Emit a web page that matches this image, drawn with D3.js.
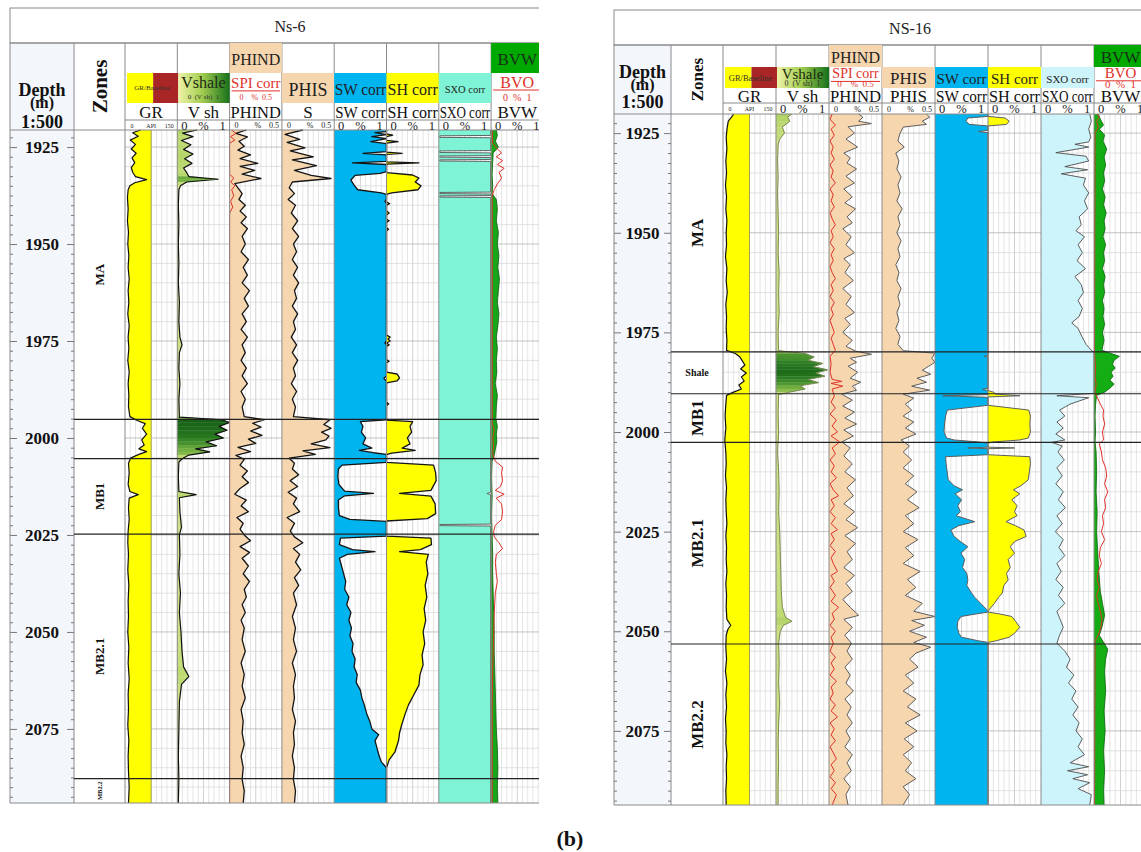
<!doctype html>
<html lang="en">
<head>
<meta charset="utf-8"/>
<title>Well log panels Ns-6 / NS-16</title>
<style>
  body { margin: 0; background: #fff; }
  svg { display: block; font-family: "Liberation Serif", "Times New Roman", serif; }
</style>
<script src="https://d3js.org/d3.v7.min.js"></script>
</head>
<body>
<svg width="1141" height="852" font-family="Liberation Serif, serif"></svg>
<script>
// ---------- data ----------
const depthLabels = [1925, 1950, 1975, 2000, 2025, 2050, 2075];
const trackDomains = [[0, 150], [0, 1], [0, 0.5], [0, 0.5], [0, 1], [0, 1], [0, 1], [0, 1]];
const scaleLabels = [["0", "API", "150"], ["0", "%", "1"], ["0", "%", "0.5"], ["0", "%", "0.5"], ["0", "%", "1"], ["0", "%", "1"], ["0", "%", "1"], ["0", "%", "1"]];
const ns6Names = ["GR", "V sh", "PHIND", "S", "SW corr", "SH corr", "SXO corr", "BVW"];
const ns16Names = ["GR", "V sh", "PHIND", "PHIS", "SW corr", "SH corr", "SXO corr", "BVW"];
const grBaseline = 75;

const ns6Zones = [
  {name: "MA", top: 1920.6, base: 1995.2},
  {name: "", top: 1995.2, base: 2005.3},
  {name: "MB1", top: 2005.3, base: 2024.8},
  {name: "MB2.1", top: 2024.8, base: 2087.8},
  {name: "MB2.2", top: 2087.8, base: 2094.1}
];
const ns16Zones = [
  {name: "MA", top: 1920.2, base: 1979.9},
  {name: "Shale", top: 1979.9, base: 1990.4},
  {name: "MB1", top: 1990.4, base: 2002.6},
  {name: "MB2.1", top: 2002.6, base: 2053.2},
  {name: "MB2.2", top: 2053.2, base: 2093.6}
];

// Ns-6 curves: [depth m, value]
const ns6GR = [[1920.6,45],[1921.3,22],[1922.2,38],[1923.2,15],[1924.3,30],[1925.5,18],[1926.6,32],[1927.8,20],[1929,28],[1930.3,18],[1931.5,22],[1932.6,30],[1933.4,62],[1934.2,28],[1935,14],[1936,9],[1938,7],[1941,9],[1944,7],[1947,10],[1950,8],[1953,11],[1956,9],[1959,12],[1962,9],[1965,11],[1968,8],[1971,12],[1974,9],[1977,11],[1980,8],[1983,12],[1986,9],[1989,11],[1992,10],[1994.5,14],[1995.5,35],[1996.3,58],[1997.5,50],[1999,62],[2000.5,48],[2001.8,55],[2002.8,40],[2003.5,62],[2004.3,38],[2005.2,16],[2006.5,10],[2009,12],[2012,9],[2013.8,14],[2014.6,38],[2015.5,12],[2018,10],[2021,12],[2024,9],[2027,8],[2030,10],[2034,8],[2038,11],[2042,9],[2046,10],[2050,8],[2054,11],[2058,9],[2062,12],[2066,9],[2070,10],[2074,8],[2078,11],[2082,9],[2086,10],[2090,12],[2094.1,10]];
const ns6Vsh = [[1920.6,0.38],[1921.4,0.1],[1922.3,0.3],[1923.3,0.08],[1924.4,0.26],[1925.6,0.12],[1926.8,0.3],[1928,0.14],[1929.2,0.28],[1930.4,0.12],[1931.6,0.18],[1932.6,0.22],[1933.3,0.78],[1934,0.18],[1935,0.06],[1936,0.03],[1940,0.02],[1945,0.03],[1950,0.02],[1955,0.03],[1960,0.02],[1965,0.04],[1970,0.03],[1974,0.05],[1976,0.09],[1978,0.04],[1982,0.03],[1986,0.05],[1990,0.03],[1994.6,0.04],[1995.3,0.85],[1996,1.0],[1997,0.8],[1998,0.95],[1999,0.72],[2000,0.88],[2001,0.55],[2002,0.75],[2002.8,0.35],[2003.6,0.62],[2004.4,0.22],[2005.3,0.1],[2006.2,0.03],[2010,0.02],[2013.8,0.03],[2014.6,0.36],[2015.4,0.04],[2019,0.05],[2023,0.08],[2025,0.04],[2030,0.05],[2035,0.03],[2040,0.06],[2045,0.04],[2050,0.07],[2055,0.09],[2059,0.12],[2061.5,0.22],[2063.5,0.08],[2068,0.04],[2075,0.03],[2082,0.02],[2088,0.03],[2094.1,0.02]];
const ns6PHIND = [[1920.6,0.16],[1921.5,0.06],[1922.4,0.17],[1923.5,0.09],[1924.8,0.14],[1925.8,0.08],[1927,0.2],[1928,0.1],[1929.2,0.27],[1930,0.1],[1931,0.24],[1932,0.12],[1933.1,0.3],[1934.4,0.05],[1935.5,0.08],[1937,0.12],[1938.5,0.09],[1940,0.15],[1941.5,0.1],[1943,0.16],[1944.5,0.11],[1946,0.17],[1948,0.12],[1950,0.15],[1952,0.11],[1954,0.18],[1956,0.13],[1958,0.17],[1960,0.12],[1962,0.19],[1964,0.14],[1966,0.18],[1968,0.12],[1970,0.16],[1972,0.11],[1974,0.17],[1976,0.12],[1978,0.15],[1980,0.11],[1982,0.16],[1984,0.12],[1986,0.17],[1988,0.11],[1990,0.15],[1992,0.12],[1994.5,0.14],[1995.3,0.33],[1996.2,0.22],[1997.2,0.3],[1998.2,0.2],[1999.3,0.31],[2000.3,0.18],[2001.4,0.25],[2002.4,0.08],[2003.5,0.2],[2004.5,0.06],[2005.5,0.14],[2007,0.1],[2008.5,0.17],[2010,0.12],[2011.5,0.18],[2013,0.1],[2014.5,0.05],[2016,0.16],[2017.5,0.11],[2019,0.18],[2020.5,0.07],[2022,0.13],[2023.5,0.1],[2025,0.14],[2026.5,0.2],[2028,0.1],[2029.5,0.19],[2031,0.12],[2033,0.18],[2035,0.13],[2037,0.19],[2039,0.14],[2041,0.16],[2043,0.12],[2045,0.15],[2047,0.11],[2049,0.14],[2052,0.12],[2055,0.15],[2058,0.11],[2061,0.14],[2064,0.12],[2067,0.15],[2070,0.11],[2073,0.13],[2076,0.12],[2079,0.14],[2082,0.11],[2085,0.13],[2088,0.12],[2091,0.14],[2094.1,0.13]];
const ns6SPI = [[1920.6,0.02],[1921.5,0.06],[1922.3,0.01],[1923.2,0.05],[1924,0.0],[1932,0.0],[1933,0.04],[1934,0.01],[1935,0.05],[1936,0.02],[1937.5,0.04],[1939,0.01],[1940.5,0.03],[1942,0.0],[2094.1,0.0]];
const ns6PHIS = [[1920.6,0.2],[1921.7,0.03],[1923,0.17],[1923.8,0.05],[1925.2,0.22],[1926,0.08],[1927.5,0.3],[1928.3,0.1],[1929.8,0.33],[1931,0.12],[1932.3,0.28],[1933.1,0.47],[1934,0.1],[1935.5,0.07],[1937,0.12],[1938.5,0.06],[1940,0.13],[1942,0.09],[1944,0.15],[1946,0.1],[1948,0.16],[1950,0.11],[1952,0.14],[1954,0.1],[1956,0.15],[1958,0.11],[1960,0.16],[1962,0.12],[1964,0.14],[1966,0.1],[1968,0.15],[1970,0.11],[1972,0.13],[1974,0.09],[1976,0.14],[1978,0.1],[1980,0.15],[1982,0.11],[1984,0.13],[1986,0.09],[1988,0.14],[1990,0.1],[1992,0.13],[1994.5,0.11],[1995.3,0.46],[1996.5,0.4],[1997.5,0.47],[1998.5,0.38],[1999.5,0.45],[2000.5,0.42],[2001.5,0.28],[2002.5,0.46],[2003.3,0.2],[2004.2,0.32],[2005.2,0.07],[2006.5,0.12],[2008,0.1],[2009.5,0.16],[2011,0.08],[2012.5,0.15],[2014,0.06],[2015.5,0.14],[2017,0.11],[2019,0.17],[2020.5,0.05],[2022,0.12],[2024,0.08],[2025.5,0.12],[2027,0.2],[2028.5,0.11],[2030,0.17],[2032,0.13],[2034,0.18],[2036,0.12],[2038,0.16],[2040,0.11],[2043,0.14],[2046,0.1],[2049,0.13],[2052,0.11],[2055,0.14],[2058,0.1],[2061,0.13],[2064,0.11],[2067,0.12],[2070,0.1],[2073,0.13],[2076,0.11],[2079,0.12],[2082,0.1],[2085,0.12],[2088,0.11],[2091,0.13],[2094.1,0.12]];
const ns6SW = [[1920.6,1],[1921,1],[1921.3,0.78],[1921.8,1],[1922.3,0.72],[1922.8,1],[1923.6,0.7],[1924.1,1],[1926.2,1],[1926.6,0.55],[1927,1],[1928.7,1],[1929.1,0.35],[1929.5,1],[1931.3,1],[1931.8,0.88],[1932.3,0.4],[1933.5,0.32],[1934.8,0.38],[1936,0.45],[1936.8,0.9],[1937.2,1],[1938.5,1],[1939,0.97],[1939.5,1],[1975,1],[1975.5,0.97],[1976,1],[1984,1],[1984.6,0.95],[1985.4,1],[1995.3,1],[1995.8,0.5],[1997,0.55],[1998.5,0.52],[2000,0.6],[2001.5,0.55],[2002.6,0.72],[2003.2,0.48],[2003.8,0.75],[2004.2,1],[2006.3,1],[2007,0.15],[2008,0.08],[2010,0.07],[2012,0.09],[2013.7,0.2],[2014.3,0.75],[2014.9,0.2],[2016,0.08],[2018,0.08],[2020,0.1],[2021,0.3],[2021.5,1],[2025.3,1],[2025.8,0.12],[2027.5,0.1],[2028.8,0.35],[2029.3,0.78],[2030,0.25],[2031,0.1],[2033,0.14],[2035,0.18],[2037,0.22],[2039,0.2],[2041,0.28],[2043,0.24],[2045,0.32],[2047,0.28],[2049,0.33],[2051,0.3],[2053,0.36],[2055,0.34],[2057,0.4],[2059,0.38],[2061,0.44],[2063,0.42],[2065,0.5],[2067,0.53],[2069,0.58],[2071,0.62],[2073,0.68],[2075,0.72],[2076.5,0.85],[2078,0.78],[2080,0.82],[2082,0.86],[2083.5,0.9],[2085,1],[2094.1,1]];
const ns6SH = [[1920.6,0],[1921.6,0],[1921.9,0.12],[1922.3,0],[1923.3,0],[1923.6,0.22],[1924,0],[1926.3,0],[1926.6,0.3],[1926.9,0],[1928.8,0],[1929.1,0.62],[1929.4,0],[1931.6,0],[1932.2,0.5],[1933,0.62],[1934,0.55],[1935,0.66],[1936,0.6],[1936.8,0.1],[1937.2,0],[1939.2,0],[1939.6,0.06],[1940,0],[1941.5,0],[1942,0.05],[1942.5,0],[1943.6,0],[1944,0.05],[1944.4,0],[1945.8,0],[1946.2,0.04],[1946.6,0],[1973.5,0],[1974,0.07],[1974.5,0.03],[1975,0.07],[1975.5,0],[1976,0.05],[1976.4,0],[1979.8,0],[1980.2,0.05],[1980.6,0],[1983,0],[1983.5,0.2],[1984.5,0.25],[1985.3,0.2],[1985.8,0],[1990.8,0],[1991.2,0.04],[1991.6,0],[1995.4,0],[1995.8,0.5],[1997,0.45],[1998.5,0.48],[2000,0.4],[2001.5,0.45],[2002.6,0.3],[2003.2,0.55],[2003.9,0.1],[2004.3,0],[2006.3,0],[2007,0.9],[2009,0.94],[2011,0.95],[2013.5,0.85],[2014.3,0.25],[2015,0.85],[2017,0.93],[2019.5,0.94],[2020.8,0.78],[2021.4,0],[2025.3,0],[2025.8,0.85],[2027.5,0.86],[2028.8,0.65],[2029.3,0.25],[2030,0.8],[2032,0.76],[2035,0.79],[2038,0.74],[2041,0.77],[2044,0.72],[2047,0.75],[2050,0.7],[2053,0.73],[2056,0.68],[2058.5,0.7],[2061,0.64],[2063.7,0.62],[2066,0.53],[2068.8,0.42],[2071,0.36],[2074,0.29],[2076,0.25],[2078,0.23],[2081,0.16],[2083,0.05],[2085,0],[2094.1,0]];
const ns6SXO = [[1920.6,0.99],[1922,0.99],[1922.1,0.02],[1922.5,0.02],[1922.6,0.99],[1925.9,0.99],[1926,0.02],[1926.4,0.02],[1926.5,0.99],[1927.2,0.99],[1927.3,0.02],[1927.6,0.02],[1927.7,0.99],[1928.2,0.99],[1928.3,0.02],[1928.6,0.02],[1928.7,0.99],[1936.6,0.99],[1936.7,0.02],[1937,0.02],[1937.1,0.99],[1937.5,0.99],[1937.6,0.02],[1937.9,0.02],[1938,0.99],[2014,0.99],[2014.3,0.92],[2014.6,0.99],[2022.2,0.99],[2022.3,0.02],[2022.6,0.02],[2022.7,0.99],[2094.1,0.99]];
const ns6BVW = [[1920.6,0.1],[1922,0.12],[1923.5,0.08],[1925,0.14],[1926.5,0.04],[1929,0.03],[1932,0.02],[1935,0.03],[1937,0.02],[1938.5,0.1],[1941,0.12],[1944,0.1],[1947,0.14],[1950,0.12],[1953,0.15],[1956,0.13],[1959,0.16],[1962,0.14],[1965,0.12],[1968,0.15],[1971,0.13],[1974,0.1],[1977,0.12],[1980,0.1],[1983,0.11],[1986,0.08],[1989,0.12],[1992,0.1],[1995,0.09],[1997,0.12],[1999,0.1],[2001,0.11],[2003,0.08],[2004.5,0.06],[2006,0.02],[2010,0.01],[2015,0.02],[2020,0.01],[2025,0.02],[2030,0.03],[2035,0.03],[2040,0.04],[2045,0.05],[2050,0.06],[2055,0.06],[2060,0.07],[2065,0.08],[2070,0.09],[2075,0.1],[2080,0.12],[2085,0.13],[2090,0.12],[2094.1,0.13]];
const ns6BVO = [[1920.6,0.02],[1924,0.03],[1925.5,0.12],[1926.5,0.2],[1927.5,0.1],[1928.5,0.22],[1929.5,0.12],[1930.5,0.25],[1931.5,0.15],[1933,0.2],[1934.5,0.12],[1936,0.06],[1937.5,0.02],[1996,0.02],[1998,0.06],[2000,0.03],[2002,0.05],[2004,0.03],[2006,0.08],[2007.5,0.22],[2009,0.2],[2011,0.22],[2012.5,0.18],[2013.5,0.08],[2014.5,0.25],[2015.5,0.1],[2017,0.2],[2019,0.22],[2021,0.2],[2022.5,0.08],[2024,0.05],[2025.5,0.06],[2027,0.15],[2028.5,0.22],[2030,0.1],[2032,0.08],[2035,0.1],[2037,0.12],[2040,0.08],[2045,0.06],[2050,0.05],[2055,0.04],[2060,0.03],[2070,0.02],[2094.1,0.02]];

// NS-16 curves
const ns16GR = [[1920.2,30],[1921,24],[1922,15],[1923.5,12],[1926,9],[1929,11],[1932,8],[1935,10],[1938,7],[1941,10],[1944,8],[1947,11],[1950,9],[1953,10],[1956,7],[1959,11],[1962,9],[1965,12],[1968,8],[1971,10],[1974,9],[1977,11],[1979.5,10],[1980.3,35],[1981.2,48],[1982.2,55],[1983.2,62],[1984.2,50],[1985.2,66],[1986.2,52],[1987.2,60],[1988.2,45],[1989.2,52],[1990,30],[1990.8,10],[1993,8],[1996,6],[1999,8],[2002,5],[2005,8],[2008,9],[2011,7],[2014,10],[2017,8],[2020,9],[2023,11],[2026,8],[2029,10],[2032,9],[2035,11],[2038,8],[2041,10],[2044,9],[2047,11],[2048.5,22],[2049.5,14],[2051,9],[2054,8],[2057,10],[2060,7],[2063,11],[2066,8],[2069,10],[2072,7],[2075,9],[2078,8],[2081,11],[2084,9],[2087,10],[2090,8],[2093.6,9]];
const ns16Vsh = [[1920.2,0.3],[1921,0.22],[1922,0.26],[1923.5,0.12],[1925,0.16],[1926.5,0.07],[1928,0.04],[1932,0.03],[1936,0.04],[1940,0.03],[1945,0.04],[1950,0.05],[1955,0.04],[1960,0.06],[1965,0.05],[1970,0.06],[1975,0.04],[1979.6,0.05],[1980.3,0.55],[1981.2,0.72],[1982,0.6],[1982.8,0.88],[1983.6,0.7],[1984.4,0.97],[1985.2,0.75],[1986,0.92],[1986.8,0.6],[1987.6,0.8],[1988.4,0.45],[1989.2,0.55],[1990,0.25],[1990.6,0.05],[1995,0.04],[2000,0.05],[2005,0.03],[2010,0.05],[2015,0.06],[2020,0.05],[2025,0.07],[2030,0.08],[2035,0.09],[2040,0.1],[2044,0.12],[2046.5,0.18],[2047.5,0.3],[2048.5,0.14],[2050,0.08],[2053,0.05],[2058,0.06],[2063,0.05],[2068,0.07],[2073,0.05],[2078,0.04],[2083,0.05],[2088,0.04],[2093.6,0.04]];
const ns16PHIND = [[1920.2,0.28],[1921,0.32],[1922,0.28],[1922.6,0.4],[1923.4,0.18],[1925,0.24],[1926.5,0.16],[1928.5,0.27],[1930,0.14],[1931.2,0.2],[1932.5,0.17],[1934,0.26],[1935.8,0.16],[1937.5,0.24],[1939,0.14],[1941,0.22],[1942.5,0.15],[1944,0.25],[1946,0.17],[1947.5,0.22],[1949,0.13],[1951,0.21],[1953,0.16],[1955,0.24],[1956.5,0.14],[1958,0.2],[1960,0.15],[1962,0.23],[1964,0.13],[1966,0.21],[1968,0.16],[1970,0.24],[1971.5,0.15],[1973,0.2],[1975,0.13],[1977,0.22],[1978.5,0.16],[1979.7,0.25],[1980.5,0.4],[1981.5,0.2],[1982.5,0.26],[1983.5,0.18],[1985,0.27],[1986.5,0.2],[1987.5,0.3],[1988.5,0.22],[1989.5,0.26],[1990.5,0.12],[1992,0.22],[1993.5,0.13],[1995,0.24],[1996.5,0.15],[1998,0.26],[1999.5,0.14],[2001,0.23],[2002.5,0.12],[2004,0.2],[2006,0.14],[2008,0.22],[2010,0.15],[2012,0.25],[2014,0.17],[2016,0.23],[2018,0.14],[2020,0.24],[2022,0.16],[2024,0.27],[2026,0.15],[2028,0.25],[2030,0.17],[2032,0.22],[2034,0.14],[2036,0.24],[2038,0.16],[2040,0.22],[2042,0.13],[2044,0.2],[2046,0.28],[2047,0.14],[2049,0.22],[2051,0.15],[2053,0.21],[2055,0.17],[2057,0.22],[2059,0.15],[2061,0.2],[2063,0.16],[2065,0.23],[2067,0.15],[2069,0.21],[2071,0.17],[2073,0.22],[2075,0.16],[2077,0.2],[2079,0.15],[2081,0.22],[2083,0.17],[2085,0.21],[2087,0.14],[2089,0.2],[2091,0.16],[2093.6,0.18]];
const ns16SPI = [[1920.2,0.03],[1921.5,0.01],[1923,0.06],[1924,0.02],[1925.5,0.05],[1927,0.01],[1928.5,0.04],[1930,0.02],[1931.5,0.05],[1933,0.01],[1934.5,0.04],[1936,0.02],[1937.5,0.06],[1939,0.01],[1940.5,0.04],[1942,0.02],[1943.5,0.05],[1945,0.01],[1946.5,0.03],[1948,0.06],[1949.5,0.02],[1951,0.04],[1952.5,0.01],[1954,0.05],[1955.5,0.02],[1957,0.04],[1958.5,0.01],[1960,0.03],[1961.5,0.06],[1963,0.02],[1964.5,0.04],[1966,0.01],[1967.5,0.05],[1969,0.02],[1970.5,0.04],[1972,0.01],[1973.5,0.03],[1975,0.05],[1976.5,0.02],[1978,0.04],[1979.5,0.06],[1981,0.01],[1983,0.02],[1985,0.01],[1986.8,0.03],[1987.3,0.12],[1987.8,0.02],[1988.5,0.13],[1989.2,0.03],[1991,0.05],[1992.5,0.02],[1994,0.06],[1995.5,0.01],[1997,0.07],[1998.5,0.03],[2000,0.08],[2001,0.02],[2002.5,0.1],[2004,0.03],[2005.5,0.06],[2007,0.01],[2008.5,0.05],[2010,0.02],[2011.5,0.07],[2013,0.01],[2014.5,0.04],[2016,0.09],[2017,0.02],[2018.5,0.05],[2020,0.01],[2021.5,0.06],[2023,0.02],[2024.5,0.08],[2025.5,0.02],[2027,0.05],[2028.5,0.01],[2030,0.06],[2031.5,0.02],[2033,0.04],[2035,0.08],[2036,0.02],[2037.5,0.05],[2039,0.01],[2041,0.06],[2042.5,0.02],[2044,0.09],[2045.5,0.03],[2047,0.05],[2048.5,0.01],[2050,0.06],[2051.5,0.02],[2053,0.04],[2055,0.01],[2056.5,0.06],[2058,0.02],[2059.5,0.05],[2061,0.01],[2062.5,0.07],[2064,0.02],[2065.5,0.04],[2067,0.01],[2068.5,0.06],[2070,0.02],[2071.5,0.08],[2073,0.01],[2074.5,0.05],[2076,0.02],[2077.5,0.06],[2079,0.01],[2080.5,0.04],[2082,0.07],[2083.5,0.02],[2085,0.05],[2086.5,0.01],[2088,0.06],[2089.5,0.02],[2091,0.07],[2093.6,0.03]];
const ns16PHIS = [[1920.2,0.42],[1921,0.45],[1922,0.38],[1922.8,0.42],[1923.5,0.2],[1925,0.17],[1927,0.15],[1928.5,0.21],[1930,0.13],[1932,0.16],[1934,0.14],[1936,0.18],[1938,0.15],[1940,0.17],[1942,0.14],[1944,0.19],[1946,0.15],[1948,0.17],[1950,0.14],[1952,0.18],[1954,0.15],[1956,0.17],[1958,0.13],[1960,0.16],[1962,0.14],[1964,0.18],[1966,0.15],[1968,0.17],[1970,0.14],[1972,0.16],[1974,0.13],[1976,0.17],[1978,0.15],[1979.6,0.2],[1980.2,0.5],[1981.5,0.47],[1982.5,0.5],[1983.5,0.44],[1984.5,0.38],[1985.5,0.46],[1986.5,0.33],[1987.5,0.42],[1988.5,0.28],[1989.5,0.45],[1990.5,0.2],[1991.5,0.3],[1993,0.22],[1994.5,0.28],[1996,0.2],[1997.5,0.3],[1999,0.22],[2000.5,0.32],[2002,0.18],[2003.5,0.26],[2005,0.2],[2007,0.28],[2009,0.2],[2011,0.3],[2013,0.22],[2015,0.33],[2017,0.24],[2019,0.35],[2021,0.22],[2023,0.3],[2025,0.2],[2027,0.34],[2029,0.22],[2031,0.3],[2033,0.2],[2035,0.36],[2037,0.24],[2039,0.32],[2041,0.22],[2043,0.38],[2045,0.3],[2046.3,0.5],[2047.3,0.28],[2048.5,0.4],[2050,0.26],[2051.5,0.42],[2052.8,0.3],[2054,0.46],[2055.5,0.32],[2057,0.26],[2059,0.34],[2061,0.22],[2063,0.3],[2065,0.2],[2067,0.32],[2069,0.24],[2071,0.36],[2073,0.22],[2075,0.33],[2077,0.21],[2079,0.3],[2081,0.2],[2083,0.28],[2085,0.22],[2087,0.32],[2089,0.2],[2091,0.26],[2093.6,0.2]];
const ns16SW = [[1920.2,1],[1920.8,1],[1921.2,0.62],[1922,0.58],[1922.8,0.65],[1923.2,1],[1924.3,1],[1924.6,0.82],[1924.9,1],[1980.8,1],[1981,0.93],[1981.2,1],[1989,1],[1989.3,0.9],[1989.6,1],[1990.6,1],[1990.9,0.15],[1991.3,1],[1993.3,1],[1994.5,0.23],[1996,0.2],[1998,0.18],[2000,0.17],[2001.5,0.22],[2002,0.36],[2002.5,0.82],[2002.8,1],[2003.8,1],[2004,0.62],[2004.2,1],[2005.7,1],[2006.2,0.2],[2008,0.21],[2010,0.23],[2012,0.25],[2013.5,0.36],[2014.5,0.52],[2015.5,0.38],[2017,0.5],[2018.5,0.43],[2020,0.48],[2021,0.4],[2022.5,0.75],[2023.5,0.45],[2024.6,0.3],[2026.2,0.36],[2027.5,0.48],[2028.8,0.62],[2030.4,0.49],[2032,0.56],[2034,0.52],[2035.5,0.6],[2037.1,0.62],[2038.5,0.6],[2040.4,0.69],[2041.5,0.75],[2043,0.86],[2044.6,0.98],[2045.2,1],[2045.6,0.8],[2046.3,0.49],[2047.5,0.43],[2049,0.42],[2050.5,0.45],[2051.5,0.5],[2052.4,0.82],[2052.8,1],[2093.6,1]];
const ns16SH = [[1920.2,0],[1920.8,0],[1921.2,0.32],[1922,0.4],[1922.8,0.35],[1923.2,0],[1989.6,0],[1990,0.1],[1990.5,0.15],[1990.9,0.6],[1991.2,0],[1993.3,0],[1994.5,0.77],[1996,0.8],[1998,0.79],[2000,0.8],[2001.5,0.76],[2002,0.6],[2002.5,0.1],[2002.8,0],[2003.8,0],[2004,0.5],[2004.2,0],[2005.7,0],[2006.2,0.79],[2008,0.8],[2010,0.78],[2012,0.76],[2013.5,0.62],[2014.5,0.48],[2015.5,0.6],[2017,0.45],[2018.5,0.55],[2020,0.5],[2021,0.55],[2022.5,0.34],[2023.5,0.52],[2024.6,0.68],[2026.2,0.72],[2027.5,0.5],[2028.8,0.42],[2030.4,0.5],[2032,0.38],[2034,0.42],[2035.5,0.35],[2037.1,0.38],[2038.5,0.3],[2040.4,0.27],[2041.5,0.2],[2043,0.12],[2044.6,0.02],[2045.2,0],[2045.6,0.2],[2046.3,0.45],[2047.5,0.52],[2049,0.6],[2050.5,0.5],[2051.5,0.4],[2052.4,0.15],[2052.8,0],[2093.6,0]];
const ns16SXO = [[1920.2,0.92],[1922,0.95],[1924,0.9],[1926,0.94],[1927.2,0.9],[1927.8,0.64],[1928.5,0.9],[1929.9,0.28],[1930.8,0.85],[1932,0.9],[1933.4,0.45],[1934.2,0.88],[1935.2,0.38],[1936.3,0.84],[1938,0.8],[1940,0.9],[1942,0.82],[1944,0.88],[1946,0.72],[1948,0.76],[1949.5,0.66],[1951,0.82],[1953,0.7],[1955,0.78],[1957,0.68],[1959,0.84],[1961,0.64],[1963,0.76],[1965,0.8],[1967,0.7],[1969,0.78],[1971,0.72],[1972.6,0.58],[1974,0.7],[1976,0.77],[1978,0.85],[1979.5,0.95],[1980,1],[1990.3,1],[1990.9,0.3],[1991.4,0.9],[1993,0.55],[1994.5,0.35],[1996,0.45],[1997.5,0.3],[1999,0.42],[2000.5,0.28],[2002,0.45],[2002.6,0.2],[2003.5,0.4],[2005,0.32],[2007,0.44],[2009,0.3],[2011,0.4],[2013,0.28],[2015,0.42],[2017,0.33],[2019,0.46],[2021,0.3],[2023,0.4],[2025,0.27],[2027,0.42],[2029,0.34],[2031,0.45],[2033,0.3],[2035,0.38],[2037,0.28],[2039,0.42],[2041,0.33],[2043,0.45],[2045,0.3],[2047,0.36],[2049,0.42],[2051,0.35],[2053,0.3],[2055,0.45],[2057,0.55],[2059,0.48],[2061,0.62],[2063,0.52],[2065,0.66],[2067,0.58],[2069,0.7],[2071,0.6],[2073,0.72],[2075,0.66],[2077,0.78],[2079,0.7],[2081,0.82],[2083,0.55],[2084,0.9],[2085,0.5],[2086,0.88],[2087,0.6],[2088,0.92],[2089.5,0.7],[2091,0.95],[2093.6,0.92]];
const ns16BVW = [[1920.2,0.08],[1921.5,0.12],[1923,0.18],[1924,0.1],[1925.5,0.2],[1927,0.17],[1929,0.24],[1931,0.19],[1933,0.22],[1935,0.18],[1937,0.2],[1939,0.16],[1941,0.21],[1943,0.18],[1945,0.23],[1947,0.19],[1949,0.21],[1951,0.17],[1953,0.22],[1955,0.18],[1957,0.2],[1959,0.16],[1961,0.21],[1963,0.18],[1965,0.2],[1967,0.16],[1969,0.19],[1971,0.17],[1973,0.2],[1975,0.16],[1977,0.19],[1979.5,0.15],[1980.2,0.3],[1981,0.48],[1982,0.38],[1983,0.35],[1984,0.4],[1985,0.32],[1986,0.36],[1987,0.3],[1988,0.38],[1989,0.3],[1990,0.2],[1990.8,0.05],[1993,0.03],[1996,0.02],[2000,0.03],[2002.5,0.02],[2005,0.04],[2010,0.05],[2015,0.04],[2020,0.06],[2025,0.05],[2030,0.07],[2035,0.09],[2040,0.12],[2043,0.16],[2046,0.2],[2049,0.15],[2051,0.1],[2053.2,0.2],[2054.5,0.26],[2057,0.22],[2060,0.2],[2065,0.22],[2070,0.19],[2075,0.21],[2080,0.18],[2085,0.2],[2090,0.18],[2093.6,0.19]];
const ns16BVO = [[1920.2,0.06],[1921,0.1],[1922,0.05],[1923.5,0.08],[1925,0.02],[1980,0.01],[1984,0.03],[1986,0.02],[1988,0.04],[1990,0.02],[1991,0.05],[1993,0.12],[1994.5,0.18],[1996,0.17],[1998,0.2],[2000,0.16],[2002,0.18],[2003,0.1],[2005,0.14],[2007,0.16],[2009,0.22],[2011,0.24],[2013,0.2],[2015,0.26],[2017,0.2],[2019,0.22],[2021,0.16],[2023,0.18],[2025,0.14],[2027,0.2],[2029,0.12],[2031,0.1],[2033,0.14],[2035,0.08],[2037,0.06],[2039,0.1],[2041,0.05],[2043,0.08],[2045,0.12],[2047,0.15],[2049,0.13],[2051,0.08],[2052.5,0.02],[2093.6,0.01]];

// ---------- drawing ----------
var svg = d3.select("svg");
var defs = svg.append("defs");
var SERIF = "Liberation Serif, serif";
var RED = "#e0302a", TAN = "#f6d6ae", BLUE = "#00b4f0", YEL = "#ffff00";

var wells = [
  {title: "Ns-6", titleX: 290, names: ns6Names, zones: ns6Zones, gr: ns6GR, vsh: ns6Vsh, phind: ns6PHIND, spi: ns6SPI,
   phis: ns6PHIS, sw: ns6SW, sh: ns6SH, sxo: ns6SXO, bvw: ns6BVW, bvo: ns6BVO,
   x0: 10, clipR: 539, top: 8, hTop: 43, boxTop: 73, legBot: 103, nameLine: 120, dataTop: 130, dataBot: 803,
   domain: [1920.6, 2094.1], depthW: 64, zoneW: 51, trackW: 52.3,
   sxoFill: "#7ff3d6", ink: "#151515", inkW: 1.3, zoneFont: 13, smallZones: {"MB2.2": 6.5}, flatZones: [],
   depthHdr: [95, 107, 128], zonesFont: 21, tiny: 7, legFont: 16, sub: 7, sxoFont: 10.5, bvwFill: "#19a519"},
  {title: "NS-16", titleX: 910, names: ns16Names, zones: ns16Zones, gr: ns16GR, vsh: ns16Vsh, phind: ns16PHIND, spi: ns16SPI,
   phis: ns16PHIS, sw: ns16SW, sh: ns16SH, sxo: ns16SXO, bvw: ns16BVW, bvo: ns16BVO,
   x0: 614, clipR: 1141, top: 10, hTop: 45, boxTop: 67, legBot: 88, nameLine: 103, dataTop: 114, dataBot: 805,
   domain: [1920.2, 2093.6], depthW: 57, zoneW: 52, trackW: 53,
   sxoFill: "#cdf3fb", ink: "#5e5e5e", inkW: 1, zoneFont: 17, smallZones: {}, flatZones: ["Shale"],
   depthHdr: [77, 89, 108], zonesFont: 17, tiny: 8.5, legFont: 15, sub: 8, sxoFont: 11, bvwFill: "#14ae14"}
];

var vshColor = d3.scaleLinear().domain([0, 0.25, 0.5, 0.75, 1])
  .range(["#d6e68e", "#b2d466", "#6fae3e", "#2d7f24", "#0d5510"]);

wells.forEach(function(w, wi) {
  defs.append("clipPath").attr("id", "clip" + wi).append("rect")
    .attr("x", w.x0 - 1).attr("y", 0).attr("width", w.clipR - w.x0 + 1).attr("height", 852);
  var hg = defs.append("linearGradient").attr("id", "vshHdr" + wi);
  hg.append("stop").attr("offset", 0).attr("stop-color", "#eef3a8");
  hg.append("stop").attr("offset", 0.45).attr("stop-color", "#a6cf52");
  hg.append("stop").attr("offset", 1).attr("stop-color", "#16701a");

  var g = svg.append("g").attr("clip-path", "url(#clip" + wi + ")");
  var y = d3.scaleLinear().domain(w.domain).range([w.dataTop, w.dataBot]);
  var xZ = w.x0 + w.depthW, xT = xZ + w.zoneW, W = w.trackW;
  var tx = function(i) { return xT + i * W; };
  var cx = function(i) { return tx(i) + W / 2; };
  var right = tx(8);
  var xs = trackDomains.map(function(dom, i) {
    return d3.scaleLinear().domain(dom).range([tx(i), tx(i + 1)]);
  });

  // depth column background
  g.append("rect").attr("x", w.x0).attr("y", w.hTop).attr("width", w.depthW)
    .attr("height", w.dataBot - w.hTop).attr("fill", "#f3f6fb");

  // grid
  var grid = g.append("g").attr("stroke-width", 0.7);
  d3.range(8).forEach(function(i) {
    d3.range(1, 10).forEach(function(k) {
      var gx = tx(i) + k * W / 10;
      grid.append("line").attr("x1", gx).attr("x2", gx).attr("y1", w.dataTop).attr("y2", w.dataBot)
        .attr("stroke", k === 5 ? "#bdbdbd" : "#dadada");
    });
  });
  grid.selectAll("line.h").data(d3.range(1925, w.domain[1], 5)).join("line").attr("class", "h")
    .attr("x1", xT).attr("x2", right)
    .attr("y1", function(d) { return y(d); }).attr("y2", function(d) { return y(d); })
    .attr("stroke", function(d) { return d % 25 === 0 ? "#a9a9a9" : "#d6d6d6"; });

  var area0 = function(sc) {
    return d3.area().y(function(d) { return y(d[0]); }).x0(sc(0)).x1(function(d) { return sc(d[1]); });
  };
  var lineOf = function(sc) {
    return d3.line().y(function(d) { return y(d[0]); }).x(function(d) { return sc(d[1]); });
  };
  var cv = g.append("g");
  function stroke(data, sc, color, width) {
    cv.append("path").attr("d", lineOf(sc)(data)).attr("fill", "none")
      .attr("stroke", color).attr("stroke-width", width).attr("stroke-linejoin", "round");
  }
  function fill(data, sc, color) {
    cv.append("path").attr("d", area0(sc)(data)).attr("fill", color);
  }

  // GR: yellow between curve and baseline
  cv.append("path")
    .attr("d", d3.area().y(function(d) { return y(d[0]); })
      .x0(function(d) { return xs[0](d[1]); }).x1(xs[0](grBaseline))(w.gr))
    .attr("fill", YEL);
  cv.append("line").attr("x1", xs[0](grBaseline)).attr("x2", xs[0](grBaseline))
    .attr("y1", w.dataTop).attr("y2", w.dataBot).attr("stroke", "#a3a35a").attr("stroke-width", 1);
  stroke(w.gr, xs[0], "#111", 1.2);

  // Vshale: fill shaded by value
  d3.pairs(w.vsh).forEach(function(p) {
    var c = vshColor((p[0][1] + p[1][1]) / 2);
    cv.append("path").attr("d", area0(xs[1])(p)).attr("fill", c).attr("stroke", c).attr("stroke-width", 0.4);
  });
  stroke(w.vsh, xs[1], wi === 0 ? "#111" : "#7d8a55", wi === 0 ? 1.2 : 1);

  fill(w.phind, xs[2], TAN); stroke(w.phind, xs[2], w.ink, w.inkW);
  stroke(w.spi, xs[2], RED, 1);
  fill(w.phis, xs[3], TAN); stroke(w.phis, xs[3], w.ink, w.inkW);
  fill(w.sw, xs[4], BLUE); stroke(w.sw, xs[4], w.ink, w.inkW);
  fill(w.sh, xs[5], YEL); stroke(w.sh, xs[5], w.ink, w.inkW);
  fill(w.sxo, xs[6], w.sxoFill); stroke(w.sxo, xs[6], wi === 0 ? "#555" : "#4d4d4d", 0.9);
  fill(w.bvw, xs[7], w.bvwFill); stroke(w.bvw, xs[7], "#0b5e0b", 0.8);
  stroke(w.bvo, xs[7], RED, 1);

  // frames
  var fr = g.append("g").attr("stroke", "#8a8a8a").attr("stroke-width", 1).attr("fill", "none");
  fr.append("rect").attr("x", w.x0).attr("y", w.top).attr("width", right - w.x0 + 20).attr("height", w.hTop - w.top);
  [w.x0, xZ, xT].concat(d3.range(1, 9).map(tx)).forEach(function(vx) {
    fr.append("line").attr("x1", vx).attr("x2", vx).attr("y1", w.hTop).attr("y2", w.dataBot);
  });
  [[w.x0, w.hTop], [xT, w.nameLine], [w.x0, w.dataTop], [w.x0, w.dataBot]].forEach(function(h) {
    fr.append("line").attr("x1", h[0]).attr("x2", right + 20).attr("y1", h[1]).attr("y2", h[1]);
  });

  // zones
  var zg = g.append("g");
  w.zones.forEach(function(z, i) {
    if (i > 0) {
      zg.append("line").attr("x1", xZ).attr("x2", right + 20).attr("y1", y(z.top)).attr("y2", y(z.top))
        .attr("stroke", "#222").attr("stroke-width", 1.2);
    }
    if (!z.name) return;
    var zx = xZ + w.zoneW / 2, zy = y((z.top + z.base) / 2);
    var flat = w.flatZones.indexOf(z.name) >= 0;
    var fs = w.smallZones[z.name] || (flat ? 10 : w.zoneFont);
    zg.append("text").attr("transform", "translate(" + zx + "," + zy + ")" + (flat ? "" : " rotate(-90)"))
      .attr("text-anchor", "middle").attr("dominant-baseline", "central").attr("font-family", SERIF)
      .attr("font-weight", "bold").attr("font-size", fs).attr("fill", "#111").text(z.name);
  });

  // depth axis
  var minor = d3.range(1922.5, w.domain[1], 2.5).filter(function(d) { return depthLabels.indexOf(d) < 0; });
  var ax = g.append("g");
  ax.append("g").attr("transform", "translate(" + xZ + ",0)")
    .call(d3.axisLeft(y).tickValues(minor).tickSize(3).tickFormat(""));
  ax.append("g").attr("transform", "translate(" + w.x0 + ",0)")
    .call(d3.axisRight(y).tickValues(minor).tickSize(3).tickFormat(""));
  ax.append("g").attr("transform", "translate(" + w.x0 + ",0)")
    .call(d3.axisRight(y).tickValues(depthLabels).tickSize(7).tickFormat(""));
  var major = ax.append("g").attr("transform", "translate(" + xZ + ",0)")
    .call(d3.axisLeft(y).tickValues(depthLabels).tickSize(7).tickFormat(d3.format("d")));
  major.attr("font-family", SERIF);
  major.selectAll("text").attr("x", -w.depthW / 2).attr("text-anchor", "middle")
    .attr("font-family", SERIF).attr("font-size", 17).attr("font-weight", "bold").attr("fill", "#111");
  ax.selectAll(".domain").remove();
  ax.selectAll(".tick line").attr("stroke", "#777");

  // header
  var hd = g.append("g").attr("font-family", SERIF);
  var ht = w.hTop, bt = w.boxTop, lb = w.legBot, lh = lb - bt;
  function label(x, yy, s, size, color, bold) {
    return hd.append("text").attr("x", x).attr("y", yy).attr("text-anchor", "middle")
      .attr("dominant-baseline", "central").attr("font-size", size).attr("fill", color || "#111")
      .attr("font-weight", bold ? "bold" : null).style("white-space", "pre").text(s);
  }
  function fit(t, maxW) {
    if (t.node().getComputedTextLength() > maxW) t.attr("textLength", maxW).attr("lengthAdjust", "spacingAndGlyphs");
    return t;
  }
  function box(x, yy, wd, h, color) {
    hd.append("rect").attr("x", x).attr("y", yy).attr("width", wd).attr("height", h).attr("fill", color);
  }

  label(w.titleX, (w.top + w.hTop) / 2 + 1, w.title, 16, "#222");
  label(w.x0 + w.depthW / 2, w.depthHdr[0] - 5, "Depth", 18, "#111", true);
  label(w.x0 + w.depthW / 2, w.depthHdr[1] - 5, "(m)", 16, "#111", true);
  label(w.x0 + w.depthW / 2, w.depthHdr[2] - 6, "1:500", 18, "#111", true);
  hd.append("text").attr("transform", "translate(" + (xZ + w.zoneW / 2) + "," + ((ht + w.dataTop) / 2) + ") rotate(-90)")
    .attr("text-anchor", "middle").attr("dominant-baseline", "central").attr("font-weight", "bold")
    .attr("font-size", w.zonesFont).attr("fill", "#111").text("Zones");

  // GR legend
  box(tx(0) + 2, bt, W * 0.5, lh, YEL);
  box(tx(0) + 2 + W * 0.5, bt, W * 0.5 - 1, lh, "#a82626");
  fit(label(cx(0) + 1, bt + lh * 0.5, "GR/Baseline", w.tiny, "#333"), W - 4);
  // Vshale legend
  box(tx(1) + 1, bt, W - 1, lh, "url(#vshHdr" + wi + ")");
  fit(label(cx(1), bt + lh * 0.33, "Vshale", w.legFont, "#1b2a10"), W - 2);
  label(cx(1), bt + lh * 0.8, "0  (V sh)  1", w.sub, "#333");
  // PHIND / SPI
  box(tx(2), ht, W, bt - ht, TAN);
  fit(label(cx(2), (ht + bt) / 2 + 1, "PHIND", 16, "#222"), W - 2);
  fit(label(cx(2), bt + lh * 0.33, "SPI corr", w.legFont - 1, RED), W - 3);
  hd.append("line").attr("x1", tx(2) + 2).attr("x2", tx(3) - 2)
    .attr("y1", bt + lh * 0.33 + w.legFont * 0.5).attr("y2", bt + lh * 0.33 + w.legFont * 0.5)
    .attr("stroke", RED).attr("stroke-width", 1);
  label(cx(2), bt + lh * 0.82, "0    %  0.5", w.sub + 1, RED);
  // PHIS
  box(tx(3), bt, W, lh, TAN);
  fit(label(cx(3), bt + lh * 0.55, "PHIS", w.legFont + 2, "#222"), W - 3);
  // SW / SH / SXO
  box(tx(4), bt, W, lh, BLUE);
  fit(label(cx(4), bt + lh * 0.55, "SW corr", w.legFont, "#222"), W - 1);
  box(tx(5), bt, W, lh, YEL);
  fit(label(cx(5), bt + lh * 0.55, "SH corr", w.legFont, "#222"), W - 1);
  box(tx(6), bt, W, lh, w.sxoFill);
  fit(label(cx(6), bt + lh * 0.55, "SXO corr", w.sxoFont, "#222"), W - 2);
  // BVW / BVO
  box(tx(7), ht, W, bt - ht, "#00a900");
  label(cx(7), (ht + bt) / 2 + 1, "BVW", 17, "#173017");
  label(cx(7), bt + lh * 0.3, "BVO", w.legFont, RED);
  hd.append("line").attr("x1", tx(7) + 2).attr("x2", tx(8) - 2)
    .attr("y1", bt + lh * 0.3 + w.legFont * 0.5).attr("y2", bt + lh * 0.3 + w.legFont * 0.5)
    .attr("stroke", RED).attr("stroke-width", 1);
  label(cx(7), bt + lh * 0.82, "0  %  1", w.sub + 3, RED);

  // curve names and scales
  w.names.forEach(function(n, i) {
    fit(label(cx(i), (lb + w.nameLine) / 2 + 1, n, 17, "#111"), W - 2);
  });
  scaleLabels.forEach(function(s, i) {
    var half = (i === 2 || i === 3);
    var fs = i === 0 ? 6 : (half ? 8 : 12.5);
    var yy = (w.nameLine + w.dataTop) / 2 + 0.5;
    label(tx(i) + 7, yy, s[0], fs, "#222");
    label(cx(i) + (half ? 2 : 0), yy, s[1], fs, "#222");
    label(tx(i + 1) - (i === 0 ? 8 : (half ? 8 : 7)), yy, s[2], fs, "#222");
  });
});

svg.append("text").attr("x", 570).attr("y", 838).attr("text-anchor", "middle").attr("dominant-baseline", "central")
  .attr("font-family", SERIF).attr("font-size", 22).attr("font-weight", "bold").attr("fill", "#111").text("(b)");
</script>
</body>
</html>
